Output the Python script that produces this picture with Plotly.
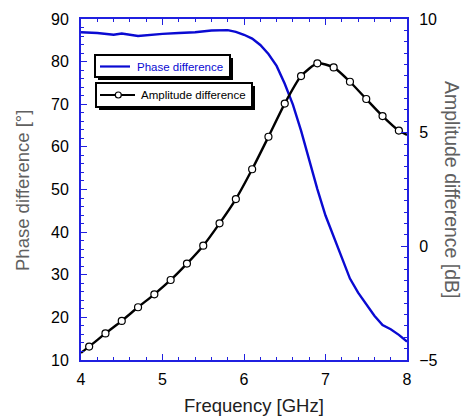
import plotly.graph_objects as go

# ---- data ----
phase_freq = [4.0, 4.2, 4.4, 4.5, 4.7, 4.8, 5.0, 5.2, 5.4, 5.6, 5.8, 5.9, 6.0, 6.1, 6.2, 6.3,
              6.4, 6.5, 6.6, 6.7, 6.8, 6.9, 7.0, 7.1, 7.2, 7.3, 7.4, 7.5, 7.6, 7.7, 7.8, 7.9, 8.0]
phase_deg = [86.9, 86.7, 86.3, 86.6, 86.0, 86.2, 86.5, 86.7, 86.9, 87.3, 87.4, 87.0, 86.3, 85.4,
             83.9, 81.8, 79.0, 74.8, 69.9, 63.8, 56.7, 50.1, 43.9, 38.9, 33.7, 29.1, 25.8, 23.0,
             20.4, 18.2, 17.2, 15.9, 14.3]

amp_freq = [4.0, 4.1, 4.3, 4.5, 4.7, 4.9, 5.1, 5.3, 5.5, 5.7, 5.9, 6.1, 6.3, 6.5, 6.7, 6.9,
            7.1, 7.3, 7.5, 7.7, 7.9, 8.0]
amp_db = [-4.68, -4.41, -3.83, -3.28, -2.68, -2.11, -1.48, -0.76, 0.03, 1.01, 2.08, 3.39, 4.82,
          6.28, 7.49, 8.05, 7.87, 7.24, 6.48, 5.73, 5.09, 4.90]

x_ticks = [4, 5, 6, 7, 8]
y_left_ticks = [10, 20, 30, 40, 50, 60, 70, 80, 90]
y_right_ticks = [-5, 0, 5, 10]

BLUE = "#0a0ad2"
AXBLUE = "#2020e0"
FONT = "Liberation Sans, Arial, sans-serif"

fig = go.Figure()
fig.add_trace(go.Scatter(x=phase_freq, y=phase_deg, mode="lines",
                         line=dict(color=BLUE, width=2.4), showlegend=False))
fig.add_trace(go.Scatter(x=amp_freq, y=amp_db, mode="lines", yaxis="y2",
                         line=dict(color="black", width=2.4, shape="spline", smoothing=0.6),
                         showlegend=False))
fig.add_trace(go.Scatter(x=amp_freq[1:-1], y=amp_db[1:-1], mode="markers", yaxis="y2",
                         marker=dict(symbol="circle", size=7, color="white",
                                     line=dict(color="black", width=1.2)),
                         showlegend=False))

W, H = 463, 419
L, R, T, B = 81, 56, 19, 59
pw, ph = W - L - R, H - T - B


def px(x):
    return (x - L) / pw


def py(y):
    return (H - B - y) / ph


shapes = []
annotations = []

# manual legend boxes with drop shadow
def box(x0, y0, x1, y1):
    shapes.append(dict(type="rect", xref="paper", yref="paper",
                       x0=px(x0 + 3), x1=px(x1 + 3), y0=py(y1 + 3), y1=py(y0 + 3),
                       fillcolor="black", line=dict(width=0), layer="above"))
    shapes.append(dict(type="rect", xref="paper", yref="paper",
                       x0=px(x0), x1=px(x1), y0=py(y1), y1=py(y0),
                       fillcolor="white", line=dict(color="black", width=2), layer="above"))

box(95, 55, 230, 77)
box(96, 83, 252, 107)
shapes.append(dict(type="line", xref="paper", yref="paper", x0=px(100), x1=px(130),
                   y0=py(66.5), y1=py(66.5), line=dict(color=BLUE, width=2.2), layer="above"))
shapes.append(dict(type="line", xref="paper", yref="paper", x0=px(100), x1=px(135),
                   y0=py(95), y1=py(95), line=dict(color="black", width=2.2), layer="above"))
shapes.append(dict(type="circle", xref="paper", yref="paper", x0=px(115.3), x1=px(121.3),
                   y0=py(98), y1=py(92), fillcolor="white",
                   line=dict(color="black", width=1.2), layer="above"))
annotations.append(dict(xref="paper", yref="paper", x=px(135), y=py(66.5), text="Phase difference",
                        showarrow=False, xanchor="left", yanchor="middle",
                        font=dict(family=FONT, size=11.5, color=BLUE)))
annotations.append(dict(xref="paper", yref="paper", x=px(139), y=py(95), text="Amplitude difference",
                        showarrow=False, xanchor="left", yanchor="middle",
                        font=dict(family=FONT, size=11.5, color="black")))

# axis titles
TITLE_C = "#606060"
annotations.append(dict(xref="paper", yref="paper", x=px(22), y=py(191), text="Phase difference [°]",
                        showarrow=False, textangle=-90, xanchor="center", yanchor="middle",
                        font=dict(family=FONT, size=18.5, color=TITLE_C)))
annotations.append(dict(xref="paper", yref="paper", x=px(452), y=py(190),
                        text="Amplitude difference [dB]", showarrow=False, textangle=90,
                        xanchor="center", yanchor="middle",
                        font=dict(family=FONT, size=19.5, color=TITLE_C)))
annotations.append(dict(xref="paper", yref="paper", x=px(254), y=py(406), text="Frequency [GHz]",
                        showarrow=False, xanchor="center", yanchor="middle",
                        font=dict(family=FONT, size=18.5, color="#202020")))

fig.update_layout(
    width=W, height=H,
    margin=dict(l=L, r=R, t=T, b=B, pad=0),
    paper_bgcolor="white", plot_bgcolor="white",
    font=dict(family=FONT, size=16, color="black"),
    xaxis=dict(range=[4, 8], tickvals=x_ticks, ticks="inside", ticklen=6, tickwidth=1.2,
               tickcolor=AXBLUE, showline=True, linecolor=AXBLUE, linewidth=2, mirror="ticks",
               showgrid=False, zeroline=False, ticklabelstandoff=4,
               minor=dict(dtick=0.2, tick0=4, ticks="inside", ticklen=3, tickcolor=AXBLUE,
                          tickwidth=1, showgrid=False),
               tickfont=dict(size=16, color="black")),
    yaxis=dict(range=[10, 90], tickvals=y_left_ticks, ticks="inside", ticklen=6, tickwidth=1.2,
               tickcolor=AXBLUE, showline=True, linecolor=AXBLUE, linewidth=2, showgrid=False,
               zeroline=False, ticklabelstandoff=7,
               minor=dict(dtick=2, tick0=10, ticks="inside", ticklen=3, tickcolor=AXBLUE,
                          tickwidth=1, showgrid=False),
               tickfont=dict(size=16, color="black")),
    yaxis2=dict(range=[-5, 10], tickvals=y_right_ticks, overlaying="y", side="right",
                ticks="inside", ticklen=6, tickwidth=1.2, tickcolor=AXBLUE, showline=True,
                linecolor=AXBLUE, linewidth=2, showgrid=False, zeroline=False,
                ticklabelstandoff=7,
                minor=dict(dtick=0.5, tick0=-5, ticks="inside", ticklen=3, tickcolor=AXBLUE,
                           tickwidth=1, showgrid=False),
                tickfont=dict(size=16, color="black")),
    shapes=shapes,
    annotations=annotations,
    showlegend=False,
)

fig.write_html("out.html", config={"displayModeBar": False},
               post_script="document.body.style.margin='0';document.body.style.overflow='hidden';")
